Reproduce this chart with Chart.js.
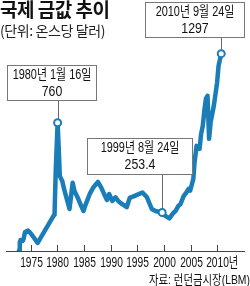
<!DOCTYPE html>
<html>
<head>
<meta charset="utf-8">
<script src="https://cdn.jsdelivr.net/npm/chart.js@4/dist/chart.umd.min.js"></script>
<style>
html,body{margin:0;padding:0;background:#fff;}
#wrap{position:relative;width:250px;height:286px;overflow:hidden;}
canvas{position:absolute;left:0;top:0;}
.t{position:absolute;white-space:nowrap;color:#111;}
#title{left:0px;top:-5px;font:bold 19px "Noto Sans CJK KR",sans-serif;letter-spacing:-0.5px;}
#sub{left:0px;top:20px;font:14px "Noto Sans CJK KR",sans-serif;color:#222;letter-spacing:-0.4px;}
</style>
</head>
<body>
<div id="wrap">
<canvas id="c" width="250" height="286"></canvas>
<div class="t" id="title">국제 금값 추이</div>
<div class="t" id="sub">(단위: 온스당 달러)</div>
</div>
<script>
// ---- data ----
const goldYears = [1972.8,1972.95,1973.1,1973.5,1973.66,1973.93,1974.5,1975.1,1976.3,1979.3,1979.46,1979.7,1980.04,1980.27,1980.45,1980.54,1980.9,1981.25,1981.66,1982.27,1982.5,1982.86,1983.2,1983.75,1984.3,1984.9,1985.27,1986.07,1986.8,1987.6,1988.2,1988.75,1989.3,1989.7,1990.3,1990.9,1991.4,1992.1,1993.0,1993.57,1994.5,1995.95,1996.8,1997.7,1998.4,1999.65,2000.1,2001.0,2001.6,2002.2,2002.7,2003.1,2003.7,2004.0,2004.6,2004.9,2005.5,2005.7,2006.1,2006.4,2006.66,2006.96,2007.27,2007.6,2007.86,2008.16,2008.45,2008.75,2009.34,2009.95,2010.23,2010.73];
const goldPrices = [5,59,72,66,79,125,135,112,53,232,237,540,843,658,494,487,461,408,355,276,342,448,395,355,309,263,303,375,421,454,418,375,336,375,329,353,329,309,288,349,362,385,353,276,263,253.4,234,214,244,265,296,309,362,375,408,397,474,573,691,685,671,770,823,935,1001,1020,737,849,955,1106,1218,1297];
const tickYears = [1975,1980,1985,1990,1995,2000,2005,2010];
const tickLabels = ['1975','1980','1985','1990','1995','2000','2005','2010년'];
const markerYears = [1980.04,1999.65,2010.73];
const markerPrices = [843,253.4,1297];
const markerDates = ['1980년 1월 16일','1999년 8월 24일','2010년 9월 24일'];
const markerLabels = ['760','253.4','1297'];
const sourceText = '자료: 런던금시장(LBM)';

// ---- layout / style ----
const BLUE = '#1a7db8';
const FONT = '"Liberation Sans","Noto Sans CJK KR",sans-serif';
const boxes = [
  {x:7,y:65,w:90,h:36},
  {x:87,y:138,w:106,h:37},
  {x:145,y:2,w:100,h:36}
];

function condensed(ctx, text, x, y, font, sx, align){
  ctx.save();
  ctx.font = font;
  ctx.textBaseline = 'middle';
  ctx.textAlign = 'left';
  const w = ctx.measureText(text).width * sx;
  let left = x;
  if (align === 'center') left = x - w/2;
  else if (align === 'right') left = x - w;
  ctx.translate(left, y);
  ctx.scale(sx, 1);
  ctx.fillText(text, 0, 0);
  ctx.restore();
}

const annoPlugin = {
  id:'anno',
  beforeDatasetsDraw(chart){
    const ctx = chart.ctx, xs = chart.scales.x, ys = chart.scales.y;
    ctx.save();
    ctx.strokeStyle = '#666';
    ctx.lineWidth = 1;
    markerYears.forEach((yr,i)=>{
      const px = Math.round(xs.getPixelForValue(yr))+0.5;
      const py = ys.getPixelForValue(markerPrices[i]);
      const b = boxes[i];
      ctx.beginPath();
      ctx.moveTo(px,b.y+b.h);
      ctx.lineTo(px,py);
      ctx.stroke();
    });
    ctx.restore();
  },
  afterDatasetsDraw(chart){
    const ctx = chart.ctx, xs = chart.scales.x;
    ctx.save();
    // upward tick marks and tick labels from the x scale
    const yb = chart.chartArea.bottom;
    ctx.strokeStyle = '#444';
    ctx.lineWidth = 1;
    ctx.fillStyle = '#111';
    const tf = '14px ' + FONT, tsx = 0.73;
    tickYears.forEach((yr,i)=>{
      const px = Math.round(xs.getPixelForValue(yr))+0.5;
      ctx.beginPath();
      ctx.moveTo(px,yb);
      ctx.lineTo(px,yb-6);
      ctx.stroke();
      const lbl = tickLabels[i];
      const num = lbl.replace(/[^0-9]/g,'');
      // centre the number on the tick; any suffix hangs to the right
      ctx.font = tf;
      const wNum = ctx.measureText(num).width * tsx;
      condensed(ctx, lbl, px - wNum/2, yb + 12, tf, tsx, 'left');
    });
    condensed(ctx, sourceText, 250, 280, '13px ' + FONT, 0.8, 'right');
    // annotation boxes
    boxes.forEach((b,i)=>{
      ctx.fillStyle = '#fff';
      ctx.fillRect(b.x,b.y,b.w,b.h);
      ctx.strokeStyle = '#777';
      ctx.lineWidth = 1;
      ctx.strokeRect(b.x+0.5,b.y+0.5,b.w-1,b.h-1);
      ctx.fillStyle = '#111';
      condensed(ctx, markerDates[i], b.x+b.w/2, b.y+10, '14px ' + FONT, 0.78, 'center');
      condensed(ctx, markerLabels[i], b.x+b.w/2, b.y+27, '15px ' + FONT, 0.82, 'center');
    });
    ctx.restore();
  }
};

new Chart(document.getElementById('c'),{
  type:'line',
  data:{
    datasets:[
      {
        data: markerYears.map((x,i)=>({x, y: markerPrices[i]})),
        showLine:false,
        pointRadius:3.5,
        pointBackgroundColor:'#fff',
        pointBorderColor:BLUE,
        pointBorderWidth:2,
        order:0
      },
      {
        data: goldYears.map((x,i)=>({x, y: goldPrices[i]})),
        borderColor:BLUE,
        borderWidth:4.5,
        pointRadius:0,
        tension:0,
        borderJoinStyle:'round',
        borderCapStyle:'round',
        order:1
      }
    ]
  },
  options:{
    responsive:false,
    animation:false,
    events:[],
    layout:{padding:{top:38,bottom:35,left:0,right:0}},
    plugins:{legend:{display:false},tooltip:{enabled:false}},
    scales:{
      x:{
        type:'linear',
        min:1970.36,
        max:2015,
        afterBuildTicks(axis){ axis.ticks = tickYears.map(v=>({value:v})); },
        ticks:{display:false},
        grid:{display:false,drawTicks:false},
        border:{display:true,color:'#444',width:1}
      },
      y:{
        display:false,
        min:0,
        max:1400
      }
    }
  },
  plugins:[annoPlugin]
});
</script>
</body>
</html>
